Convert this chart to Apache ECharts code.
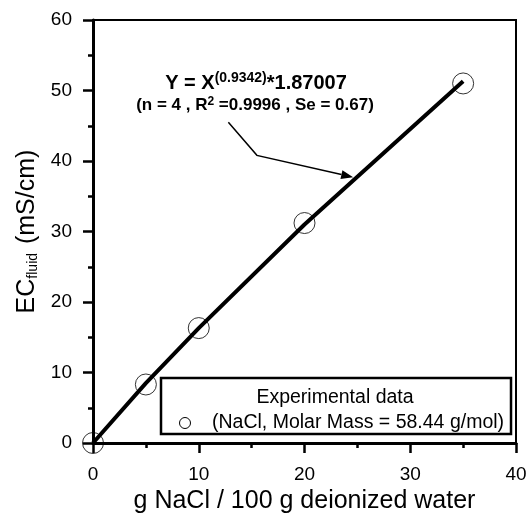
<!DOCTYPE html>
<html><head><meta charset="utf-8">
<script src="https://cdn.jsdelivr.net/npm/echarts@6/dist/echarts.min.js"></script>
<style>html,body{margin:0;padding:0;background:#fff}#c{width:530px;height:513px}</style>
</head><body><div id="c"></div>
<script>
// Experimental data
var expX = [0, 5, 10, 20, 35];
var expY = [0, 8.3, 16.3, 31.2, 51.0];
// Fitted curve
var fitX = [0, 5, 10, 20, 35];
var fitY = [0, 8.5, 16.3, 31.0, 51.3];
// Annotation arrow path (data coords)
var arrowX = [12.8, 15.5, 24.6];
var arrowY = [45.5, 40.8, 37.7];
var xTicks = [0, 10, 20, 30, 40];
var yTicks = [0, 10, 20, 30, 40, 50, 60];

var FONT = "'Liberation Sans', Arial, sans-serif";
var chart = echarts.init(document.getElementById('c'));
function pairs(a, b) { return a.map(function (v, i) { return [v, b[i]]; }); }

var axisCommon = {
  type: 'value',
  axisLine: { show: true, onZero: false, lineStyle: { color: '#000', width: 3 } },
  axisTick: { show: true, inside: false, length: 10, lineStyle: { color: '#000', width: 2.5 } },
  minorTick: { show: true, splitNumber: 2, length: 5, lineStyle: { color: '#000', width: 2.5 } },
  splitLine: { show: false },
  axisLabel: { color: '#000', fontSize: 19, fontFamily: FONT },
  nameTextStyle: { color: '#000', fontSize: 25, fontFamily: FONT }
};

chart.setOption({
  animation: false,
  grid: {
    left: 93, right: 14, top: 20, bottom: 70, containLabel: false, outerBoundsMode: 'none',
    show: true, borderColor: '#000', borderWidth: 2, backgroundColor: 'transparent'
  },
  xAxis: Object.assign({}, axisCommon, {
    min: 0, max: 40, interval: 10,
    name: 'g NaCl / 100 g deionized water', nameLocation: 'middle', nameGap: 43,
    axisLabel: Object.assign({}, axisCommon.axisLabel, { margin: 22 })
  }),
  yAxis: Object.assign({}, axisCommon, {
    min: 0, max: 60, interval: 10,
    name: '{a|EC}{s|fluid}{a| (mS/cm)}', nameLocation: 'middle', nameGap: 47, nameRotate: 90,
    nameTextStyle: {
      color: '#000', fontFamily: FONT,
      rich: {
        a: { fontSize: 25, fontFamily: FONT, color: '#000' },
        s: { fontSize: 14, fontFamily: FONT, color: '#000', verticalAlign: 'bottom', padding: [9, 2, 0, 0] }
      }
    },
    axisLabel: Object.assign({}, axisCommon.axisLabel, { margin: 21 })
  }),
  series: [
    {
      type: 'line', data: pairs(fitX, fitY), symbol: 'none', smooth: false,
      lineStyle: { color: '#000', width: 4 }, z: 2
    },
    {
      type: 'scatter', data: pairs(expX, expY), symbol: 'circle', symbolSize: 21,
      itemStyle: { color: 'rgba(0,0,0,0)', borderColor: '#000', borderWidth: 1 }, z: 3
    }
  ]
});

function drawGraphics() {
  var pts = pairs(arrowX, arrowY).map(function (p) { return chart.convertToPixel({ gridIndex: 0 }, p); });
  var a = pts[pts.length - 2], b = pts[pts.length - 1];
  var ang = Math.atan2(b[1] - a[1], b[0] - a[0]);
  var L = 12, W = 4.5;
  var back = [b[0] - L * Math.cos(ang), b[1] - L * Math.sin(ang)];
  var head = [
    b,
    [back[0] + W * Math.sin(ang), back[1] - W * Math.cos(ang)],
    [back[0] - W * Math.sin(ang), back[1] + W * Math.cos(ang)]
  ];
  var linePts = pts.slice(0, -1).concat([back]);
  chart.setOption({
    graphic: [
      { type: 'polyline', shape: { points: linePts }, style: { stroke: '#000', lineWidth: 1.5, fill: null }, z: 10 },
      { type: 'polygon', shape: { points: head }, style: { fill: '#000' }, z: 10 },
      {
        type: 'text', x: 256, y: 83, z: 10,
        style: {
          text: '{b|Y = X}{sup|(0.9342)}{b|*1.87007}',
          align: 'center', verticalAlign: 'middle', fontFamily: FONT,
          rich: {
            b: { fontSize: 20, fontWeight: 'bold', fontFamily: FONT, fill: '#000' },
            sup: { fontSize: 14, fontWeight: 'bold', fontFamily: FONT, fill: '#000', verticalAlign: 'top', padding: [0, 0, 9, 0] }
          }
        }
      },
      {
        type: 'text', x: 255, y: 105, z: 10,
        style: {
          text: '{b|(n = 4 , R}{sup|2}{b| =0.9996 , Se = 0.67)}',
          align: 'center', verticalAlign: 'middle', fontFamily: FONT,
          rich: {
            b: { fontSize: 17, fontWeight: 'bold', fontFamily: FONT, fill: '#000' },
            sup: { fontSize: 12, fontWeight: 'bold', fontFamily: FONT, fill: '#000', verticalAlign: 'top', padding: [0, 0, 7, 0] }
          }
        }
      },
      {
        type: 'rect', shape: { x: 161, y: 378, width: 350, height: 56 },
        style: { fill: '#fff', stroke: '#000', lineWidth: 2.5 }, z: 20
      },
      {
        type: 'text', x: 335, y: 398, z: 21,
        style: { text: 'Experimental data', align: 'center', verticalAlign: 'middle', fontSize: 19.5, fontFamily: FONT, fill: '#000' }
      },
      {
        type: 'circle', shape: { cx: 185, cy: 423, r: 5.5 }, z: 21,
        style: { fill: 'none', stroke: '#000', lineWidth: 1 }
      },
      {
        type: 'text', x: 212, y: 423, z: 21,
        style: { text: '(NaCl, Molar Mass = 58.44 g/mol)', align: 'left', verticalAlign: 'middle', fontSize: 19.5, fontFamily: FONT, fill: '#000' }
      }
    ]
  });
}
drawGraphics();
</script>
</body></html>
